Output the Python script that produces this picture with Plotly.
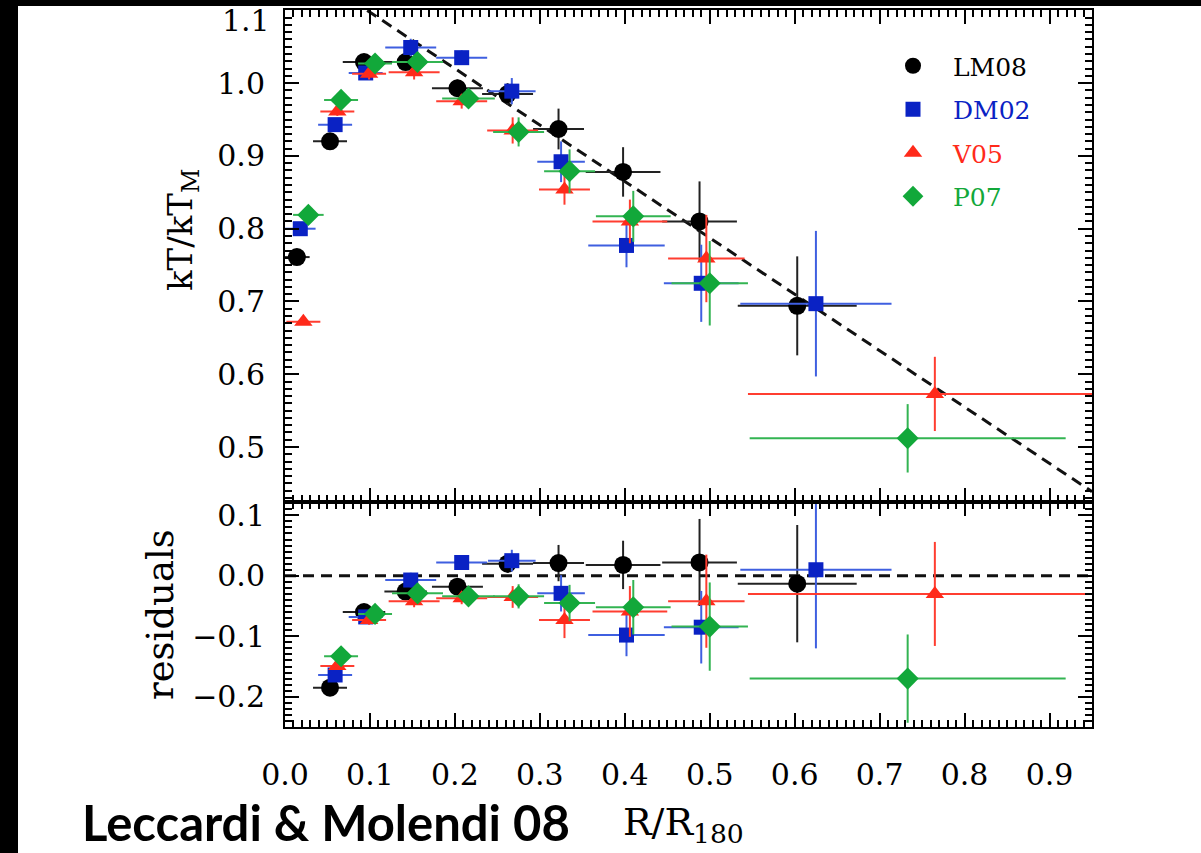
import plotly.graph_objects as go

# ---------------- data ----------------
# top panel: kT/kT_M versus R/R180
lm08_r = [0.014, 0.053, 0.093, 0.142, 0.203, 0.262, 0.322, 0.398, 0.488, 0.603]
lm08_t = [0.761, 0.920, 1.029, 1.029, 0.993, 0.985, 0.937, 0.878, 0.810, 0.694]
lm08_rerr = [0.015, 0.020, 0.025, 0.025, 0.030, 0.030, 0.030, 0.044, 0.044, 0.070]
lm08_terr = [0.005, 0.006, 0.008, 0.010, 0.012, 0.015, 0.028, 0.034, 0.055, 0.068]

dm02_r = [0.018, 0.059, 0.095, 0.148, 0.208, 0.267, 0.325, 0.402, 0.490, 0.625]
dm02_t = [0.800, 0.943, 1.014, 1.049, 1.035, 0.989, 0.892, 0.777, 0.725, 0.697]
dm02_rerr = [0.018, 0.020, 0.020, 0.030, 0.030, 0.028, 0.028, 0.045, 0.044, 0.089]
dm02_terr = [0.004, 0.006, 0.008, 0.012, 0.010, 0.018, 0.028, 0.030, 0.053, 0.100]

v05_r = [0.0216, 0.0616, 0.099, 0.152, 0.208, 0.268, 0.329, 0.406, 0.496, 0.765]
v05_t = [0.672, 0.961, 1.013, 1.015, 0.975, 0.935, 0.854, 0.810, 0.759, 0.573]
v05_rerr = [0.020, 0.020, 0.020, 0.030, 0.030, 0.030, 0.030, 0.044, 0.045, 0.220]
v05_terr = [0.004, 0.006, 0.008, 0.010, 0.010, 0.018, 0.021, 0.030, 0.060, 0.051]

p07_r = [0.0275, 0.066, 0.106, 0.156, 0.216, 0.275, 0.335, 0.410, 0.500, 0.733]
p07_t = [0.819, 0.977, 1.027, 1.029, 0.979, 0.933, 0.879, 0.817, 0.725, 0.512]
p07_rerr = [0.018, 0.020, 0.020, 0.030, 0.031, 0.030, 0.030, 0.044, 0.045, 0.186]
p07_terr = [0.004, 0.006, 0.008, 0.010, 0.012, 0.020, 0.030, 0.035, 0.058, 0.047]

# bottom panel: residuals (points beyond the innermost bin)
lm08_res = [-0.185, -0.060, -0.026, -0.018, 0.020, 0.021, 0.018, 0.022, -0.013]
lm08_res_err = [0.006, 0.008, 0.010, 0.012, 0.015, 0.030, 0.040, 0.072, 0.097]
dm02_res = [-0.164, -0.068, -0.007, 0.022, 0.025, -0.029, -0.098, -0.085, 0.010]
dm02_res_err = [0.006, 0.008, 0.012, 0.010, 0.018, 0.030, 0.035, 0.060, 0.130]
v05_res = [-0.149, -0.073, -0.042, -0.037, -0.035, -0.073, -0.059, -0.042, -0.030]
v05_res_err = [0.006, 0.008, 0.010, 0.010, 0.018, 0.030, 0.042, 0.077, 0.086]
p07_res = [-0.133, -0.063, -0.029, -0.034, -0.034, -0.045, -0.052, -0.084, -0.170]
p07_res_err = [0.006, 0.008, 0.010, 0.012, 0.020, 0.030, 0.045, 0.073, 0.073]

# best-fit linear profile (dashed line) kT/kT_M = a + b R
model_a = 1.175
model_b = -0.775
model_r = [0.0968, 0.95]
zero_r = [0.0, 0.95]
zero_v = [0.0, 0.0]

series_names = ["LM08", "DM02", "V05", "P07"]

x_ticks = [0.0, 0.1, 0.2, 0.3, 0.4, 0.5, 0.6, 0.7, 0.8, 0.9]
y_ticks_top = [0.5, 0.6, 0.7, 0.8, 0.9, 1.0, 1.1]
y_ticks_res = [-0.2, -0.1, 0.0, 0.1]
# ---------------------------------------------------------------

styles = {
    "LM08": dict(color="#000000", err="#222222", symbol="circle", size=18),
    "DM02": dict(color="#0A22C4", err="#3F5FE0", symbol="square", size=15),
    "V05": dict(color="#FF2A1A", err="#FF3D30", symbol="triangle-up", size=16),
    "P07": dict(color="#12A83A", err="#33B452", symbol="diamond", size=17),
}

top = {
    "LM08": (lm08_r, lm08_t, lm08_rerr, lm08_terr, lm08_res, lm08_res_err),
    "DM02": (dm02_r, dm02_t, dm02_rerr, dm02_terr, dm02_res, dm02_res_err),
    "V05": (v05_r, v05_t, v05_rerr, v05_terr, v05_res, v05_res_err),
    "P07": (p07_r, p07_t, p07_rerr, p07_terr, p07_res, p07_res_err),
}

SERIF = "DejaVu Serif"
TICK_SIZE = 30
fig = go.Figure()

# dashed model line (top) and zero line (bottom)
fig.add_trace(go.Scatter(x=model_r, y=[model_a + model_b * r for r in model_r],
                         mode="lines", xaxis="x2", yaxis="y", showlegend=False,
                         line=dict(color="#111111", width=3, dash="11px,7px"),
                         hoverinfo="skip"))
fig.add_trace(go.Scatter(x=zero_r, y=zero_v, mode="lines", xaxis="x", yaxis="y2",
                         showlegend=False,
                         line=dict(color="#111111", width=3, dash="11px,7px"),
                         hoverinfo="skip"))

for name in series_names:
    r, t, rerr, terr, res, reserr = top[name]
    st = styles[name]
    fig.add_trace(go.Scatter(
        x=r, y=t, mode="markers", xaxis="x2", yaxis="y",
        name=f"<span style='color:{st['color']}'>{name}</span>",
        legendgroup=name,
        marker=dict(symbol=st["symbol"], size=st["size"], color=st["color"],
                    line=dict(width=0)),
        error_x=dict(type="data", array=rerr, color=st["err"], thickness=2, width=0),
        error_y=dict(type="data", array=terr, color=st["err"], thickness=2, width=0),
    ))
    fig.add_trace(go.Scatter(
        x=r[1:], y=res, mode="markers", xaxis="x", yaxis="y2",
        showlegend=False, legendgroup=name,
        marker=dict(symbol=st["symbol"], size=st["size"], color=st["color"],
                    line=dict(width=0)),
        error_x=dict(type="data", array=rerr[1:], color=st["err"], thickness=2, width=0),
        error_y=dict(type="data", array=reserr, color=st["err"], thickness=2, width=0),
    ))

axis_common = dict(
    showline=True, linecolor="black", linewidth=2, mirror="allticks",
    ticks="inside", ticklen=14, tickwidth=2, tickcolor="black",
    showgrid=False, zeroline=False, tickmode="array", automargin=False,
    tickfont=dict(family=SERIF, size=TICK_SIZE, color="black"),
    minor=dict(ticks="inside", ticklen=7, tickwidth=1.5, tickcolor="black",
               tickmode="linear", tick0=0, dtick=0.01, showgrid=False),
)

split = 225 / 717

fig.update_layout(
    width=1201, height=853,
    paper_bgcolor="white", plot_bgcolor="white",
    margin=dict(l=285, r=109, t=10, b=126, autoexpand=False),
    showlegend=True,
    legend=dict(x=(873 - 285) / 807, y=(727 - 43) / 717, xanchor="left", yanchor="top",
                bgcolor="rgba(0,0,0,0)", borderwidth=0,
                font=dict(family=SERIF, size=25, color="black"),
                tracegroupgap=8, itemwidth=70),
    xaxis=dict(domain=[0, 1], anchor="y2", range=[0, 0.95], tickvals=x_ticks,
               tickformat=".1f", ticklabelstandoff=20, **axis_common),
    xaxis2=dict(domain=[0, 1], anchor="y", range=[0, 0.95], tickvals=x_ticks,
                matches="x", showticklabels=False, **axis_common),
    yaxis=dict(domain=[split, 1], anchor="x2", range=[0.4245, 1.1005],
               tickvals=y_ticks_top, tickformat=".1f", ticklabelstandoff=12,
               **axis_common),
    yaxis2=dict(domain=[0, split], anchor="x", range=[-0.25, 0.122],
                tickvals=y_ticks_res, tickformat=".1f", ticklabelstandoff=12,
                **axis_common),
)


def px_to_paper_x(px):
    return (px - 285) / 807.0


def px_to_paper_y(py):
    return (727 - py) / 717.0


# the topmost y label sits just below the frame corner in the original
fig.add_annotation(x=px_to_paper_x(272), y=px_to_paper_y(21), xref="paper", yref="paper",
                   xanchor="right", yanchor="middle",
                   text=f"{y_ticks_top[-1]:.1f}", showarrow=False,
                   font=dict(family=SERIF, size=TICK_SIZE, color="black"))
fig.add_annotation(x=px_to_paper_x(182), y=px_to_paper_y(230), xref="paper", yref="paper",
                   xanchor="center", yanchor="middle",
                   text="kT/kT<sub>M</sub>", textangle=-90, showarrow=False,
                   font=dict(family=SERIF, size=34, color="black"))
fig.add_annotation(x=px_to_paper_x(160), y=px_to_paper_y(615), xref="paper", yref="paper",
                   xanchor="center", yanchor="middle",
                   text="residuals", textangle=-90, showarrow=False,
                   font=dict(family=SERIF, size=37, color="black"))
fig.add_annotation(x=px_to_paper_x(683), y=px_to_paper_y(824), xref="paper", yref="paper",
                   xanchor="center", yanchor="middle",
                   text="R/R<sub>180</sub>", showarrow=False,
                   font=dict(family=SERIF, size=38, color="black"))
fig.add_annotation(x=px_to_paper_x(326), y=px_to_paper_y(822), xref="paper", yref="paper",
                   xanchor="center", yanchor="middle",
                   text="<b>Leccardi &amp; Molendi 08</b>", showarrow=False,
                   font=dict(family="Lato", size=49, color="black"))

# black slide borders (top and left)
fig.add_shape(type="rect", xref="paper", yref="paper",
              x0=px_to_paper_x(-2), x1=px_to_paper_x(1203),
              y0=px_to_paper_y(6), y1=px_to_paper_y(-2),
              fillcolor="black", line=dict(width=0), layer="above")
fig.add_shape(type="rect", xref="paper", yref="paper",
              x0=px_to_paper_x(-2), x1=px_to_paper_x(18),
              y0=px_to_paper_y(855), y1=px_to_paper_y(-2),
              fillcolor="black", line=dict(width=0), layer="above")

fig.write_html("out.html",
               config={"displayModeBar": False},
               post_script="document.body.style.margin='0';"
                           "document.body.style.overflow='hidden';")
